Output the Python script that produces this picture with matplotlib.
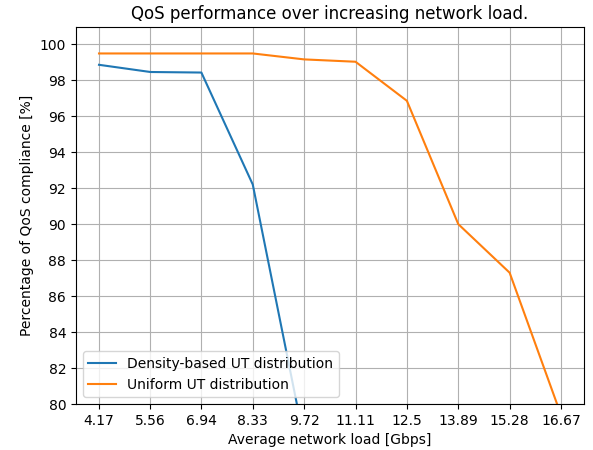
import matplotlib
matplotlib.use("Agg")
import matplotlib.pyplot as plt

loads = [4.17, 5.56, 6.94, 8.33, 9.72, 11.11, 12.5, 13.89, 15.28, 16.67]
tick_labels = ["4.17", "5.56", "6.94", "8.33", "9.72", "11.11", "12.5", "13.89", "15.28", "16.67"]
density_x = [4.17, 5.56, 6.94, 8.33, 9.72]
density_vals = [98.85, 98.45, 98.42, 92.2, 78.0]
uniform_vals = [99.48, 99.48, 99.48, 99.48, 99.15, 99.02, 96.85, 90.0, 87.3, 79.4]

fig, ax = plt.subplots(figsize=(5.93, 4.5), dpi=100)
fig.subplots_adjust(left=0.128, right=0.985, top=0.94, bottom=0.102)
ax.plot(density_x, density_vals, label="Density-based UT distribution")
ax.plot(loads, uniform_vals, label="Uniform UT distribution")
ax.set_xticks(loads)
ax.set_xticklabels(tick_labels)
ax.set_ylim(80, 100.95)
ax.set_yticks(range(80, 101, 2))
ax.grid(True)
ax.set_xlabel("Average network load [Gbps]")
ax.set_ylabel("Percentage of QoS compliance [%]")
ax.set_title("QoS performance over increasing network load.")
ax.legend(loc="lower left")
fig.savefig("out.png", dpi=100)
